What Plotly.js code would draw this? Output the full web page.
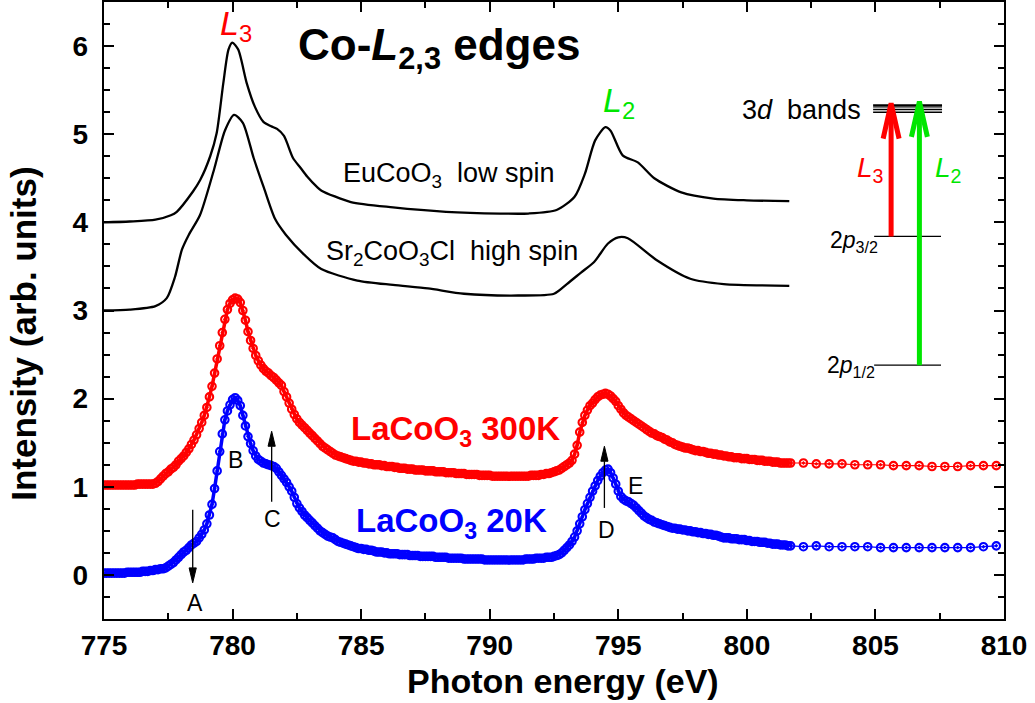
<!DOCTYPE html>
<html>
<head>
<meta charset="utf-8">
<script src="https://cdn.plot.ly/plotly-3.0.1.min.js"></script>
<style>html,body{margin:0;padding:0;background:#fff}</style>
</head>
<body>
<div id="chart" style="width:1035px;height:703px"></div>
<script>
// Co L2,3-edge XAS spectra: reference compounds (lines) and LaCoO3 at two temperatures (markers)

// EuCoO3 (low spin), offset spectrum
const euE = [775.0, 776.0, 777.0, 777.6, 777.83, 778.46, 778.74, 779.13, 779.38, 779.64, 779.84, 779.99, 780.22, 780.55, 780.87, 781.2, 781.5, 781.73, 782.0, 782.35, 782.64, 782.9, 783.29, 783.46, 784.6, 786.24, 788.3, 790.4, 791.5, 792.6, 793.3, 793.7, 794.1, 794.5, 794.7, 795.17, 795.76, 796.4, 797.45, 798.7, 800.0, 801.65];
const euI = [4.00, 4.01, 4.03, 4.08, 4.12, 4.35, 4.48, 4.75, 5.01, 5.58, 5.96, 6.04, 5.96, 5.58, 5.31, 5.14, 5.09, 5.06, 4.98, 4.73, 4.62, 4.52, 4.40, 4.36, 4.23, 4.17, 4.12, 4.10, 4.10, 4.14, 4.29, 4.55, 4.93, 5.08, 5.04, 4.76, 4.68, 4.50, 4.34, 4.27, 4.25, 4.24];

// Sr2CoO3Cl (high spin), offset spectrum
const srE = [775.0, 776.0, 777.0, 777.44, 777.76, 778.03, 778.3, 778.73, 779.28, 779.7, 780.06, 780.4, 780.82, 781.22, 781.65, 782.07, 782.76, 783.45, 784.85, 786.24, 787.6, 789.0, 791.1, 792.5, 793.0, 793.55, 794.06, 794.6, 795.0, 795.37, 796.5, 797.8, 799.1, 801.65];
const srI = [3.00, 3.01, 3.05, 3.14, 3.38, 3.69, 3.86, 4.08, 4.60, 5.04, 5.22, 5.13, 4.73, 4.39, 4.04, 3.86, 3.64, 3.47, 3.34, 3.29, 3.25, 3.19, 3.17, 3.19, 3.30, 3.43, 3.55, 3.76, 3.83, 3.82, 3.57, 3.36, 3.30, 3.28];

// LaCoO3 scans: 0.1 eV steps from 775.0 to 801.6 eV
const scanStart = 775.0;
const scanStep = 0.1;

const la300K = [
  1.02,1.02,1.02,1.02,1.02,1.02,1.02,1.02,1.02,1.02,
  1.02,1.02,1.02,1.03,1.03,1.03,1.03,1.03,1.03,1.03,
  1.04,1.06,1.09,1.12,1.15,1.17,1.20,1.22,1.25,1.29,
  1.32,1.35,1.39,1.43,1.48,1.53,1.59,1.66,1.73,1.81,
  1.90,2.02,2.14,2.29,2.45,2.60,2.75,2.90,3.01,3.08,
  3.12,3.14,3.13,3.09,3.00,2.89,2.76,2.66,2.57,2.49,
  2.43,2.38,2.34,2.31,2.29,2.26,2.24,2.21,2.18,2.15,
  2.08,2.02,1.95,1.88,1.82,1.77,1.73,1.70,1.67,1.64,
  1.61,1.58,1.55,1.52,1.49,1.46,1.44,1.42,1.40,1.38,
  1.36,1.35,1.34,1.33,1.32,1.31,1.30,1.29,1.29,1.28,
  1.28,1.27,1.27,1.26,1.26,1.25,1.25,1.25,1.24,1.24,
  1.23,1.23,1.23,1.22,1.22,1.21,1.21,1.21,1.20,1.20,
  1.20,1.19,1.19,1.19,1.19,1.18,1.18,1.18,1.18,1.17,
  1.17,1.17,1.17,1.16,1.16,1.16,1.16,1.15,1.15,1.15,
  1.15,1.14,1.14,1.14,1.14,1.14,1.13,1.13,1.13,1.13,
  1.13,1.12,1.12,1.12,1.12,1.12,1.12,1.12,1.12,1.12,
  1.12,1.12,1.12,1.12,1.12,1.12,1.13,1.13,1.13,1.13,
  1.14,1.14,1.15,1.15,1.16,1.17,1.18,1.19,1.21,1.23,
  1.25,1.27,1.30,1.37,1.47,1.62,1.73,1.81,1.87,1.92,
  1.95,1.99,2.02,2.04,2.05,2.06,2.05,2.03,2.00,1.97,
  1.92,1.88,1.84,1.81,1.79,1.77,1.75,1.73,1.71,1.69,
  1.67,1.65,1.63,1.61,1.60,1.58,1.57,1.56,1.54,1.53,
  1.51,1.50,1.48,1.47,1.46,1.45,1.44,1.44,1.43,1.42,
  1.41,1.41,1.40,1.40,1.39,1.38,1.38,1.37,1.37,1.36,
  1.36,1.35,1.35,1.34,1.34,1.33,1.33,1.33,1.32,1.32,
  1.32,1.31,1.31,1.31,1.30,1.30,1.30,1.29,1.29,1.29,
  1.28,1.28,1.28,1.27,1.27,1.27,1.27
];

const la20K = [
  0.02,0.02,0.02,0.02,0.02,0.02,0.02,0.02,0.02,0.03,
  0.03,0.03,0.03,0.03,0.03,0.04,0.04,0.04,0.05,0.05,
  0.06,0.06,0.07,0.07,0.08,0.10,0.12,0.14,0.17,0.20,
  0.23,0.26,0.28,0.31,0.34,0.36,0.38,0.42,0.46,0.51,
  0.58,0.68,0.80,0.98,1.18,1.40,1.60,1.76,1.86,1.93,
  1.99,2.01,1.98,1.92,1.81,1.69,1.57,1.49,1.41,1.35,
  1.31,1.29,1.27,1.26,1.25,1.24,1.23,1.21,1.17,1.13,
  1.09,1.05,1.00,0.95,0.88,0.81,0.76,0.72,0.68,0.65,
  0.62,0.59,0.56,0.53,0.50,0.48,0.46,0.44,0.43,0.42,
  0.40,0.38,0.37,0.36,0.35,0.34,0.33,0.32,0.31,0.30,
  0.30,0.29,0.29,0.28,0.28,0.27,0.26,0.26,0.26,0.25,
  0.25,0.24,0.24,0.24,0.24,0.23,0.23,0.23,0.23,0.22,
  0.22,0.22,0.22,0.21,0.21,0.21,0.21,0.21,0.21,0.20,
  0.20,0.20,0.20,0.20,0.19,0.19,0.19,0.19,0.19,0.19,
  0.18,0.18,0.18,0.18,0.18,0.18,0.18,0.18,0.17,0.17,
  0.17,0.17,0.17,0.17,0.17,0.17,0.17,0.17,0.17,0.17,
  0.17,0.17,0.17,0.17,0.18,0.18,0.18,0.18,0.19,0.19,
  0.19,0.19,0.20,0.20,0.20,0.21,0.22,0.23,0.25,0.28,
  0.31,0.34,0.38,0.43,0.50,0.58,0.66,0.74,0.81,0.88,
  0.95,1.01,1.07,1.12,1.16,1.19,1.20,1.16,1.10,1.03,
  0.95,0.89,0.86,0.84,0.83,0.81,0.79,0.76,0.73,0.70,
  0.67,0.65,0.63,0.62,0.60,0.59,0.58,0.57,0.56,0.55,
  0.54,0.53,0.53,0.52,0.52,0.51,0.51,0.50,0.50,0.49,
  0.49,0.48,0.48,0.47,0.47,0.46,0.46,0.45,0.45,0.44,
  0.43,0.42,0.42,0.42,0.41,0.41,0.41,0.40,0.40,0.40,
  0.39,0.39,0.38,0.38,0.38,0.37,0.37,0.37,0.36,0.36,
  0.35,0.35,0.35,0.34,0.34,0.34,0.33
];

// coarse continuation of the LaCoO3 scans up to 810 eV
const tailE = [801.7, 802.2, 802.7, 803.2, 803.7, 804.2, 804.7, 805.2, 805.7, 806.2, 806.7, 807.2, 807.7, 808.2, 808.7, 809.2, 809.7];
const tail300K = [1.27, 1.27, 1.26, 1.26, 1.26, 1.25, 1.25, 1.25, 1.24, 1.24, 1.24, 1.23, 1.23, 1.23, 1.24, 1.24, 1.24];
const tail20K = [0.33, 0.32, 0.33, 0.32, 0.32, 0.32, 0.32, 0.31, 0.31, 0.31, 0.31, 0.31, 0.31, 0.31, 0.31, 0.32, 0.33];

const xTicks = [775, 780, 785, 790, 795, 800, 805, 810];
const yTicks = [0, 1, 2, 3, 4, 5, 6];

const RED = '#ff0000', BLUE = '#0000ff', GREEN = '#00e600';
const FONT = 'Liberation Sans, Arial, Helvetica, sans-serif';

const scanE = la300K.map((_, i) => +(scanStart + i * scanStep).toFixed(2));

function markerStyle(color) {
  return {symbol: 'circle-open-dot', size: 7.5, color: color, line: {color: color, width: 2.1}};
}
// fine-step scan: markers over a heavier trace line
function scanTrace(vals, color) {
  return {
    x: scanE, y: vals, type: 'scatter', mode: 'lines+markers', hoverinfo: 'skip', showlegend: false,
    line: {color: color, width: 3.5}, marker: markerStyle(color)
  };
}
// coarse-step continuation: markers joined by a thin line
function tailTrace(vals, color) {
  return {
    x: tailE, y: vals, type: 'scatter', mode: 'lines+markers', hoverinfo: 'skip', showlegend: false,
    line: {color: color, width: 1.2}, marker: markerStyle(color)
  };
}

const data = [
  {x: euE, y: euI, type: 'scatter', mode: 'lines', hoverinfo: 'skip', showlegend: false,
   line: {color: '#000', width: 2.3, shape: 'spline', smoothing: 0.7}},
  {x: srE, y: srI, type: 'scatter', mode: 'lines', hoverinfo: 'skip', showlegend: false,
   line: {color: '#000', width: 2.3, shape: 'spline', smoothing: 0.7}},
  scanTrace(la300K, RED), tailTrace(tail300K, RED),
  scanTrace(la20K, BLUE), tailTrace(tail20K, BLUE)
];

// energy-level sketch and feature arrows (data coordinates)
function hline(x0, x1, y, w) {
  return {type: 'line', xref: 'x', yref: 'y', x0: x0, x1: x1, y0: y, y1: y, line: {color: '#000', width: w}};
}
function bigArrow(x, y0, y1, color) {
  const hw = 0.31, hl = 0.40;
  return [
    {type: 'line', xref: 'x', yref: 'y', x0: x, x1: x, y0: y0, y1: y1 - 0.03, line: {color: color, width: 5}},
    {type: 'path', xref: 'x', yref: 'y', path: `M${x - hw},${y1 - hl} L${x},${y1} L${x + hw},${y1 - hl}`,
     line: {color: color, width: 5}}
  ];
}
function smallArrow(x, yFrom, yTip) {
  const dir = yTip > yFrom ? 1 : -1;
  const hl = 0.17, hw = 0.14;
  const base = yTip - dir * hl;
  return [
    {type: 'line', xref: 'x', yref: 'y', x0: x, x1: x, y0: yFrom, y1: base, line: {color: '#000', width: 1.3}},
    {type: 'path', xref: 'x', yref: 'y', path: `M${x - hw},${base} L${x},${yTip} L${x + hw},${base} Z`,
     fillcolor: '#000', line: {color: '#000', width: 1}}
  ];
}

const shapes = [
  hline(804.91, 807.59, 5.33, 1.6), hline(804.91, 807.59, 5.31, 1.4),
  hline(804.91, 807.59, 5.28, 1.4), hline(804.91, 807.59, 5.25, 1.4),
  hline(804.95, 807.55, 3.84, 1.3),
  hline(804.95, 807.55, 2.38, 1.3),
  ...bigArrow(805.61, 3.84, 5.35, RED),
  ...bigArrow(806.71, 2.38, 5.37, GREEN),
  ...smallArrow(778.45, 0.74, -0.09),
  ...smallArrow(781.52, 0.83, 1.63),
  ...smallArrow(794.46, 0.76, 1.46)
];

function label(x, y, text, size, color, extra) {
  return Object.assign({x: x, y: y, xref: 'x', yref: 'y', text: text, showarrow: false,
    xanchor: 'center', yanchor: 'middle', font: {family: FONT, size: size, color: color}}, extra || {});
}

const annotations = [
  label(788.03, 5.98, '<b>Co-<i>L</i><sub>2,3</sub> edges</b>', 44, '#000'),
  label(780.13, 6.23, '<i>L</i><sub>3</sub>', 34, RED),
  label(795.03, 5.36, '<i>L</i><sub>2</sub>', 34, GREEN),
  label(788.42, 4.54, 'EuCoO<sub>3</sub>\u00a0 low spin', 27, '#000'),
  label(788.52, 3.65, 'Sr<sub>2</sub>CoO<sub>3</sub>Cl\u00a0 high spin', 27, '#000'),
  label(788.65, 1.63, '<b>LaCoO<sub>3</sub> 300K</b>', 33, RED),
  label(788.52, 0.59, '<b>LaCoO<sub>3</sub> 20K</b>', 33, BLUE),
  label(778.54, -0.32, 'A', 23, '#000'),
  label(780.12, 1.30, 'B', 23, '#000'),
  label(781.55, 0.635, 'C', 23, '#000'),
  label(794.54, 0.51, 'D', 23, '#000'),
  label(795.65, 1.01, 'E', 23, '#000'),
  label(804.52, 5.27, '3<i>d</i>\u00a0 bands', 27, '#000', {xanchor: 'right'}),
  label(805.18, 3.78, '2<i>p</i><sub>3/2</sub>', 23, '#000', {xanchor: 'right'}),
  label(805.07, 2.37, '2<i>p</i><sub>1/2</sub>', 23, '#000', {xanchor: 'right'}),
  label(804.79, 4.60, '<i>L</i><sub>3</sub>', 28, RED),
  label(807.83, 4.60, '<i>L</i><sub>2</sub>', 28, GREEN),
  // axis titles
  {xref: 'paper', yref: 'paper', x: 0.51, y: -0.101, text: 'Photon energy (eV)', showarrow: false,
   xanchor: 'center', yanchor: 'middle', font: {family: FONT, size: 34, color: '#000', weight: 'bold'}},
  {xref: 'paper', yref: 'paper', x: -0.089, y: 0.462, text: 'Intensity (arb. units)', showarrow: false,
   textangle: -90, xanchor: 'center', yanchor: 'middle', font: {family: FONT, size: 35, color: '#000', weight: 'bold'}}
];

const axisCommon = {
  showgrid: false, zeroline: false, showline: true, linecolor: '#000', linewidth: 2.3,
  mirror: 'ticks', ticks: 'inside', ticklen: 10, tickwidth: 2, tickcolor: '#000',
  tickfont: {family: FONT, size: 28, color: '#000', weight: 'bold'}
};

const layout = {
  width: 1035, height: 703,
  margin: {l: 104, r: 31, t: 2, b: 84},
  paper_bgcolor: '#fff', plot_bgcolor: '#fff',
  showlegend: false,
  xaxis: Object.assign({}, axisCommon, {
    range: [775, 810], tickmode: 'array', tickvals: xTicks, ticktext: xTicks.map(String),
    ticklabelstandoff: 0,
    minor: {dtick: 2.5, tick0: 775, ticks: 'inside', ticklen: 6, tickwidth: 2, tickcolor: '#000'}
  }),
  yaxis: Object.assign({}, axisCommon, {
    range: [-0.5, 6.5], tickmode: 'array', tickvals: yTicks, ticktext: yTicks.map(String),
    ticklabelstandoff: 8,
    minor: {dtick: 0.25, tick0: 0, ticks: 'inside', ticklen: 6, tickwidth: 2, tickcolor: '#000'}
  }),
  shapes: shapes,
  annotations: annotations
};

Plotly.newPlot('chart', data, layout, {displayModeBar: false, staticPlot: true});
</script>
</body>
</html>
